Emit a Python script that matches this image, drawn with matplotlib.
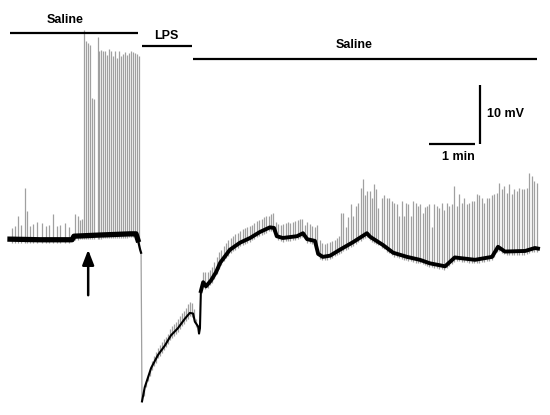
import numpy as np
import matplotlib
matplotlib.use("Agg")
from matplotlib import pyplot as plt

plt.rcParams['font.family'] = ['Liberation Sans', 'DejaVu Sans']

# membrane potential trace: time (min), potential (mV)
base_t = [0.00, 0.65, 1.35, 1.39, 1.96, 2.61, 2.74, 2.78, 2.83, 2.85,
          2.87, 2.93, 3.07, 3.22, 3.37, 3.50, 3.65, 3.80, 3.91, 3.98,
          4.02, 4.09, 4.11, 4.13, 4.15, 4.20, 4.26, 4.37, 4.48, 4.57,
          4.78, 5.00, 5.22, 5.43, 5.65, 5.74, 5.80, 5.93, 6.24, 6.37,
          6.46, 6.63, 6.70, 6.80, 6.96, 7.17, 7.46, 7.76, 7.83, 8.11,
          8.33, 8.63, 8.91, 9.13, 9.46, 9.67, 10.11, 10.48, 10.61, 10.76,
          11.20, 11.41, 11.48]
base_v = [-60.2, -60.3, -60.3, -59.7, -59.5, -59.3, -59.3, -60.3, -62.0, -62.5,
          -87.7, -85.3, -82.0, -79.8, -78.2, -76.5, -75.3, -73.7, -72.7, -72.8,
          -74.2, -75.0, -76.2, -75.3, -69.0, -67.5, -68.2, -67.2, -65.8, -64.2,
          -62.0, -60.8, -60.0, -59.0, -58.2, -58.3, -59.7, -60.0, -59.7, -59.2,
          -60.2, -60.5, -62.7, -63.2, -63.0, -62.0, -60.7, -59.2, -59.8, -61.2,
          -62.5, -63.2, -63.7, -64.3, -64.8, -63.3, -63.7, -63.2, -61.5, -62.3,
          -62.2, -61.7, -61.8]

# small fluctuations before the burst
noise_t = [0.04, 0.11, 0.17, 0.24, 0.33, 0.37, 0.43, 0.50, 0.59, 0.70,
           0.78, 0.85, 0.93, 1.02, 1.09, 1.20, 1.28, 1.41, 1.48, 1.52, 1.57]
noise_v = [-58.3, -58.0, -56.3, -57.8, -51.5, -55.5, -58.0, -57.7, -57.3, -57.5,
           -58.0, -57.8, -56.0, -58.0, -57.8, -57.5, -58.2, -56.0, -56.3, -57.0, -56.7]

# action potential burst (first saline period)
burst_t = [1.61, 1.65, 1.70, 1.74, 1.78, 1.83, 1.91, 1.94, 1.98, 2.02,
           2.07, 2.11, 2.15, 2.20, 2.24, 2.28, 2.33, 2.37, 2.41, 2.46,
           2.50, 2.54, 2.59, 2.63, 2.67, 2.72, 2.76, 2.80]
burst_v = [-24.8, -26.7, -27.0, -27.3, -36.2, -36.5, -26.0, -28.3, -28.2, -28.3,
           -28.3, -29.0, -28.0, -28.3, -29.2, -28.3, -29.5, -28.3, -29.2, -28.8,
           -28.5, -29.0, -28.7, -28.3, -28.5, -28.7, -28.8, -29.2]

# events during the LPS-induced hyperpolarisation
lps_t = [2.91, 2.96, 3.00, 3.04, 3.09, 3.13, 3.17, 3.22, 3.26, 3.30,
         3.35, 3.39, 3.43, 3.48, 3.52, 3.57, 3.61, 3.65, 3.70, 3.74,
         3.78, 3.83, 3.87, 3.91, 3.96, 4.00, 4.04]
lps_v = [-85.7, -84.3, -83.2, -82.0, -80.8, -80.0, -79.3, -78.7, -78.2, -77.7,
         -77.2, -76.7, -76.2, -75.5, -75.0, -74.5, -74.2, -73.8, -73.3, -72.7,
         -72.3, -71.8, -71.2, -70.8, -71.0, -72.0, -73.7]

# events after washout (second saline period)
wash_t = [4.20, 4.24, 4.30, 4.35, 4.39, 4.43, 4.50, 4.54, 4.59, 4.65,
          4.70, 4.74, 4.80, 4.85, 4.89, 4.96, 5.00, 5.07, 5.11, 5.15,
          5.22, 5.26, 5.30, 5.37, 5.41, 5.48, 5.52, 5.57, 5.63, 5.67,
          5.72, 5.78, 5.83, 5.89, 5.93, 6.00, 6.04, 6.09, 6.15, 6.20,
          6.26, 6.30, 6.35, 6.41, 6.46, 6.52, 6.57, 6.63, 6.67, 6.74,
          6.78, 6.85, 6.89, 6.96, 7.00, 7.07, 7.11, 7.15,
          7.20, 7.24, 7.30, 7.35, 7.41, 7.46, 7.52, 7.57, 7.63, 7.67,
          7.72, 7.76, 7.83, 7.87, 7.91, 7.96, 8.00, 8.09, 8.13, 8.20,
          8.24, 8.30, 8.35, 8.41, 8.46, 8.52, 8.57, 8.61, 8.65, 8.72,
          8.76, 8.83, 8.87, 8.91, 8.98, 9.02, 9.07, 9.11, 9.17, 9.22,
          9.28, 9.33, 9.39, 9.43, 9.50, 9.54, 9.61, 9.65, 9.72, 9.76,
          9.83, 9.87, 9.93, 9.98, 10.04, 10.09, 10.15, 10.20, 10.26, 10.30,
          10.37, 10.41, 10.48, 10.52, 10.59, 10.63, 10.70, 10.74, 10.80, 10.85,
          10.91, 10.96, 11.02, 11.07, 11.13, 11.17, 11.24, 11.28, 11.35, 11.39,
          11.46]
wash_v = [-65.7, -65.8, -65.7, -65.5, -65.0, -64.0, -63.3, -62.3, -62.0, -61.3,
          -60.8, -60.3, -60.0, -59.7, -59.3, -59.2, -58.8, -58.5, -58.3, -58.2,
          -58.0, -57.8, -57.5, -57.2, -57.0, -56.7, -56.5, -56.3, -56.2, -56.0,
          -55.8, -57.3, -57.7, -57.8, -57.7, -57.5, -57.3, -57.5, -57.3, -57.2,
          -57.0, -56.8, -56.7, -57.8, -57.3, -57.7, -58.0, -58.2, -57.8, -60.3,
          -60.8, -61.0, -60.8, -60.7, -60.5, -60.3, -60.0, -59.7,
          -55.8, -55.7, -58.2, -56.5, -54.2, -56.2, -54.5, -54.0, -51.5, -50.0,
          -52.8, -52.0, -52.0, -53.3, -50.8, -51.7, -55.0, -53.3, -52.8, -53.2,
          -53.3, -53.7, -54.0, -54.2, -56.2, -53.7, -56.2, -54.0, -54.2, -56.2,
          -53.7, -54.0, -54.5, -54.2, -55.7, -54.8, -54.5, -54.2, -58.2, -54.2,
          -54.5, -55.0, -54.0, -55.3, -54.0, -54.5, -54.2, -51.2, -54.5, -52.5,
          -54.0, -53.3, -54.2, -54.0, -53.7, -53.7, -52.5, -52.8, -53.2, -54.0,
          -53.2, -53.2, -52.8, -52.5, -52.3, -50.7, -51.7, -51.2, -52.3, -50.8,
          -52.5, -51.7, -52.0, -51.5, -51.7, -51.7, -51.5, -49.0, -49.5, -50.3,
          -50.7]

# treatment periods
periods = ['Saline', 'LPS', 'Saline']
period_start = [0.00, 2.87, 3.98]
period_end = [2.78, 3.96, 11.46]
period_level = [-25.3, -27.5, -29.6]
label_t = [1.20, 3.39, 7.48]
label_level = [-23.0, -25.7, -27.3]

arrow_t = 1.70


fig = plt.figure(figsize=(5.5, 4.15), dpi=100)
ax = fig.add_axes([0, 0, 1, 1])
ax.set_xlim(-0.217, 11.74)
ax.set_ylim(-90, -19.67)
ax.axis('off')

spike_color = '#a0a0a0'
for st, sv in [(noise_t, noise_v), (burst_t, burst_v), (lps_t, lps_v), (wash_t, wash_v)]:
    foot = np.interp(st, base_t, base_v)
    ax.vlines(st, foot - 0.6, sv, color=spike_color, lw=0.9, zorder=2)

bt = np.array(base_t)
bv = np.array(base_v)
pre = bt <= 2.85
drop = (bt >= 2.85) & (bt <= 2.87)
post = bt >= 2.87
ax.plot(bt[drop], bv[drop], color=spike_color, lw=0.9, zorder=3)
ax.plot(bt[pre], bv[pre], color='k', lw=1.6, zorder=3)
ax.plot(bt[post], bv[post], color='k', lw=1.5, zorder=3)
first = bt <= 2.78
ax.plot(bt[first], bv[first], color='k', lw=3.8, zorder=3)
late = bt >= 4.15
ax.plot(bt[late], bv[late], color='k', lw=2.8, zorder=3)

for name, t0, t1, lev, lt, lv in zip(periods, period_start, period_end,
                                     period_level, label_t, label_level):
    ax.plot([t0, t1], [lev, lev], color='k', lw=1.6, solid_capstyle='butt')
    ax.text(lt, lv, name, ha='center', va='center',
            fontsize=9, fontweight='bold')

# arrow marking treatment onset
ax.annotate('', xy=(arrow_t, -62.0), xytext=(arrow_t, -69.7),
            arrowprops=dict(arrowstyle='-|>,head_length=0.9,head_width=0.35',
                            lw=1.8, color='k', shrinkA=0, shrinkB=0))

# scale bars
ax.plot([9.11, 10.11], [-44.0, -44.0], color='k', lw=1.6, solid_capstyle='butt')
ax.plot([10.22, 10.22], [-44.0, -34.0], color='k', lw=1.6, solid_capstyle='butt')
ax.text(10.37, -39.0, '10 mV', ha='left', va='center', fontsize=9, fontweight='bold')
ax.text(9.74, -46.3, '1 min', ha='center', va='center', fontsize=9, fontweight='bold')

fig.savefig('out.png', dpi=100)
